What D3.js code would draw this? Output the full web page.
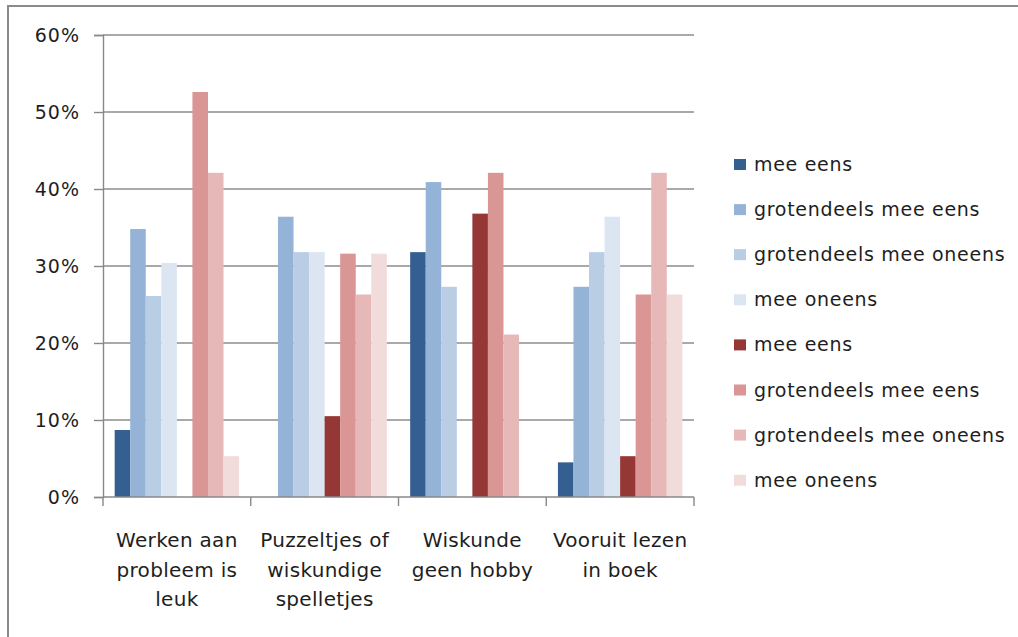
<!DOCTYPE html>
<html>
<head>
	<meta charset="utf-8">
	<title>Wiskunde enquete</title>
	<style type="text/css">
		body { margin:0; background:#fff; }
		text { font-family:"DejaVu Sans", "Liberation Sans", sans-serif; fill:#1e1e1e; }
	</style>
</head>
<body>
	<script src="https://d3js.org/d3.v7.min.js"></script>
	<script type="text/javascript">
		// data (percentages)
		const categories = ['Werken aan probleem is leuk', 'Puzzeltjes of wiskundige spelletjes', 'Wiskunde geen hobby', 'Vooruit lezen in boek'];
		const catLines = [['Werken aan', 'probleem is', 'leuk'], ['Puzzeltjes of', 'wiskundige', 'spelletjes'], ['Wiskunde', 'geen hobby'], ['Vooruit lezen', 'in boek']];
		const seriesNames = ['mee eens', 'grotendeels mee eens', 'grotendeels mee oneens', 'mee oneens',
		                     'mee eens', 'grotendeels mee eens', 'grotendeels mee oneens', 'mee oneens'];
		const seriesColors = ['#365f91', '#95b3d7', '#b9cde5', '#dce6f2', '#953735', '#d99694', '#e6b9b8', '#f2dcdb'];
		const blue1 = [8.7, 0, 31.8, 4.5];
		const blue2 = [34.8, 36.4, 40.9, 27.3];
		const blue3 = [26.1, 31.8, 27.3, 31.8];
		const blue4 = [30.4, 31.8, 0, 36.4];
		const red1 = [0, 10.5, 36.8, 5.3];
		const red2 = [52.6, 31.6, 42.1, 26.3];
		const red3 = [42.1, 26.3, 21.1, 42.1];
		const red4 = [5.3, 31.6, 0, 26.3];
		const values = [blue1, blue2, blue3, blue4, red1, red2, red3, red4];
		const yTicks = [0, 10, 20, 30, 40, 50, 60];

		const w = 1018;
		const h = 637;
		const margin = {top:35, right:324, bottom:140, left:103};
		const inner_w = w - margin.left - margin.right;
		const inner_h = h - margin.top - margin.bottom;

		const svg = d3.select('body').append('svg')
			.attr('width', w)
			.attr('height', h);

		// chart frame (only top + left visible in the picture)
		svg.append('path')
			.attr('d', `M8,${h} L8,6 L${w},6`)
			.attr('fill', 'none')
			.attr('stroke', '#8a8a8a')
			.attr('stroke-width', 2);

		const g = svg.append('g').attr('transform', `translate(${margin.left},${margin.top})`);

		const y = d3.scaleLinear().domain([0, 60]).range([inner_h, 0]);
		// excel style: gap width 150% of a bar
		const x0 = d3.scaleBand().domain(d3.range(categories.length)).range([0, inner_w])
			.paddingInner(1.5 / 9.5).paddingOuter(0.75 / 9.5);
		const x1 = d3.scaleBand().domain(d3.range(seriesNames.length)).range([0, x0.bandwidth()]);

		// gridlines
		g.append('g').selectAll('line')
			.data(yTicks.slice(1)).enter()
			.append('line')
			.attr('x1', 0).attr('x2', inner_w)
			.attr('y1', d => y(d)).attr('y2', d => y(d))
			.attr('stroke', '#8c8c8c')
			.attr('stroke-width', 1.6);

		// bars
		g.append('g').selectAll('g')
			.data(categories).enter()
			.append('g')
			.attr('transform', (_, i) => `translate(${x0(i)},0)`)
			.selectAll('rect')
			.data((_, i) => values.map((s, k) => ({k: k, v: s[i]})))
			.enter()
			.append('rect')
			.attr('x', d => x1(d.k))
			.attr('width', x1.bandwidth())
			.attr('y', d => y(d.v))
			.attr('height', d => inner_h - y(d.v))
			.attr('fill', d => seriesColors[d.k]);

		// y axis
		const yAxis = g.append('g')
			.call(d3.axisLeft(y).tickValues(yTicks).tickFormat(d => d + '%').tickSize(9).tickPadding(14));
		yAxis.select('.domain').attr('stroke', '#888').attr('stroke-width', 1.4);
		yAxis.selectAll('.tick line').attr('stroke', '#888').attr('stroke-width', 1.4);
		yAxis.selectAll('text').style('font-size', '19px').style('letter-spacing', '1px').attr('fill', '#1e1e1e');

		// x axis: base line + ticks at category boundaries
		const step = x0.step();
		g.append('line')
			.attr('x1', 0).attr('x2', inner_w)
			.attr('y1', inner_h).attr('y2', inner_h)
			.attr('stroke', '#888').attr('stroke-width', 1.4);
		g.append('g').selectAll('line')
			.data(d3.range(categories.length + 1)).enter()
			.append('line')
			.attr('x1', i => i * step).attr('x2', i => i * step)
			.attr('y1', inner_h).attr('y2', inner_h + 9)
			.attr('stroke', '#888').attr('stroke-width', 1.4);

		// category labels, wrapped like in excel
		g.append('g').selectAll('text')
			.data(catLines).enter()
			.append('text')
			.attr('text-anchor', 'middle')
			.style('font-size', '20px')
			.style('letter-spacing', '0.3px')
			.attr('transform', (_, i) => `translate(${x0(i) + x0.bandwidth() / 2},${inner_h + 50})`)
			.selectAll('tspan')
			.data(d => d).enter()
			.append('tspan')
			.attr('x', 0)
			.attr('y', (_, j) => j * 29.5)
			.text(d => d);

		// legend
		const legend = svg.append('g').attr('transform', 'translate(734,159)');
		const item = legend.selectAll('g')
			.data(seriesNames).enter()
			.append('g')
			.attr('transform', (_, i) => `translate(0,${i * 45.1})`);
		item.append('rect')
			.attr('width', 12).attr('height', 11)
			.attr('fill', (_, i) => seriesColors[i]);
		item.append('text')
			.attr('x', 20).attr('y', 12)
			.style('font-size', '19px')
			.style('letter-spacing', '0.7px')
			.text(d => d);
	</script>
</body>
</html>
